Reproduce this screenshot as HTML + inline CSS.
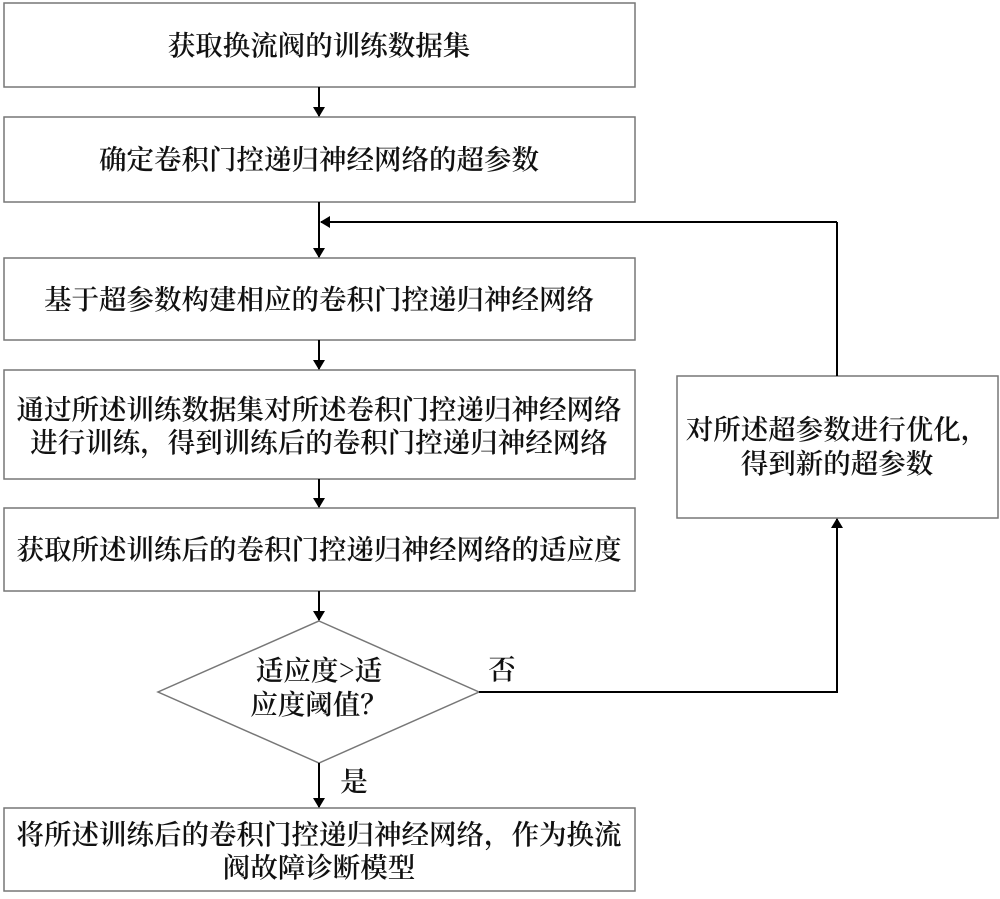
<!DOCTYPE html>
<html><head><meta charset="utf-8"><style>
body{margin:0;background:#fff;}
svg text{font-family:"Noto Serif CJK SC","Liberation Serif",serif;font-size:27.5px;font-weight:600;fill:#111;text-anchor:middle;}
</style></head><body>
<svg width="1000" height="894" viewBox="0 0 1000 894" xmlns="http://www.w3.org/2000/svg">
<defs><marker id="a" markerWidth="10" markerHeight="12" refX="9" refY="6" orient="auto" markerUnits="userSpaceOnUse"><path d="M0,0 L10,6 L0,12 Z" fill="#000"/></marker></defs>
<g fill="none" stroke="#777" stroke-width="1.5">
<rect x="4" y="3" width="631" height="84"/>
<rect x="4" y="117" width="631" height="85"/>
<rect x="4" y="258" width="631" height="82"/>
<rect x="4" y="370" width="631" height="109"/>
<rect x="4" y="508" width="631" height="83"/>
<rect x="4" y="808" width="631" height="83"/>
<rect x="677" y="376" width="321" height="142"/>
<polygon points="319,621 479,692 319,763 158,692"/>
</g>
<g stroke="#000" stroke-width="2" fill="none">
<line x1="319" y1="87" x2="319" y2="116" marker-end="url(#a)"/>
<line x1="319" y1="202" x2="319" y2="257" marker-end="url(#a)"/>
<line x1="837" y1="376" x2="837" y2="222"/>
<line x1="837" y1="222" x2="321" y2="222" marker-end="url(#a)"/>
<line x1="319" y1="340" x2="319" y2="369" marker-end="url(#a)"/>
<line x1="319" y1="479" x2="319" y2="507" marker-end="url(#a)"/>
<line x1="319" y1="591" x2="319" y2="620" marker-end="url(#a)"/>
<line x1="319" y1="763" x2="319" y2="807" marker-end="url(#a)"/>
<polyline points="479,692 837,692 837,519" marker-end="url(#a)"/>
</g>
<text x="319" y="55">获取换流阀的训练数据集</text>
<text x="319" y="169">确定卷积门控递归神经网络的超参数</text>
<text x="319" y="309">基于超参数构建相应的卷积门控递归神经网络</text>
<text x="319" y="419">通过所述训练数据集对所述卷积门控递归神经网络</text>
<text x="319" y="452">进行训练，得到训练后的卷积门控递归神经网络</text>
<text x="319" y="559">获取所述训练后的卷积门控递归神经网络的适应度</text>
<text x="319" y="680">适应度&gt;适</text>
<text x="319" y="714">应度阈值？</text>
<text x="502" y="679">否</text>
<text x="354" y="791">是</text>
<text x="319" y="844">将所述训练后的卷积门控递归神经网络，作为换流</text>
<text x="319" y="877">阀故障诊断模型</text>
<text x="837" y="439">对所述超参数进行优化，</text>
<text x="837" y="473">得到新的超参数</text>
</svg>
</body></html>
